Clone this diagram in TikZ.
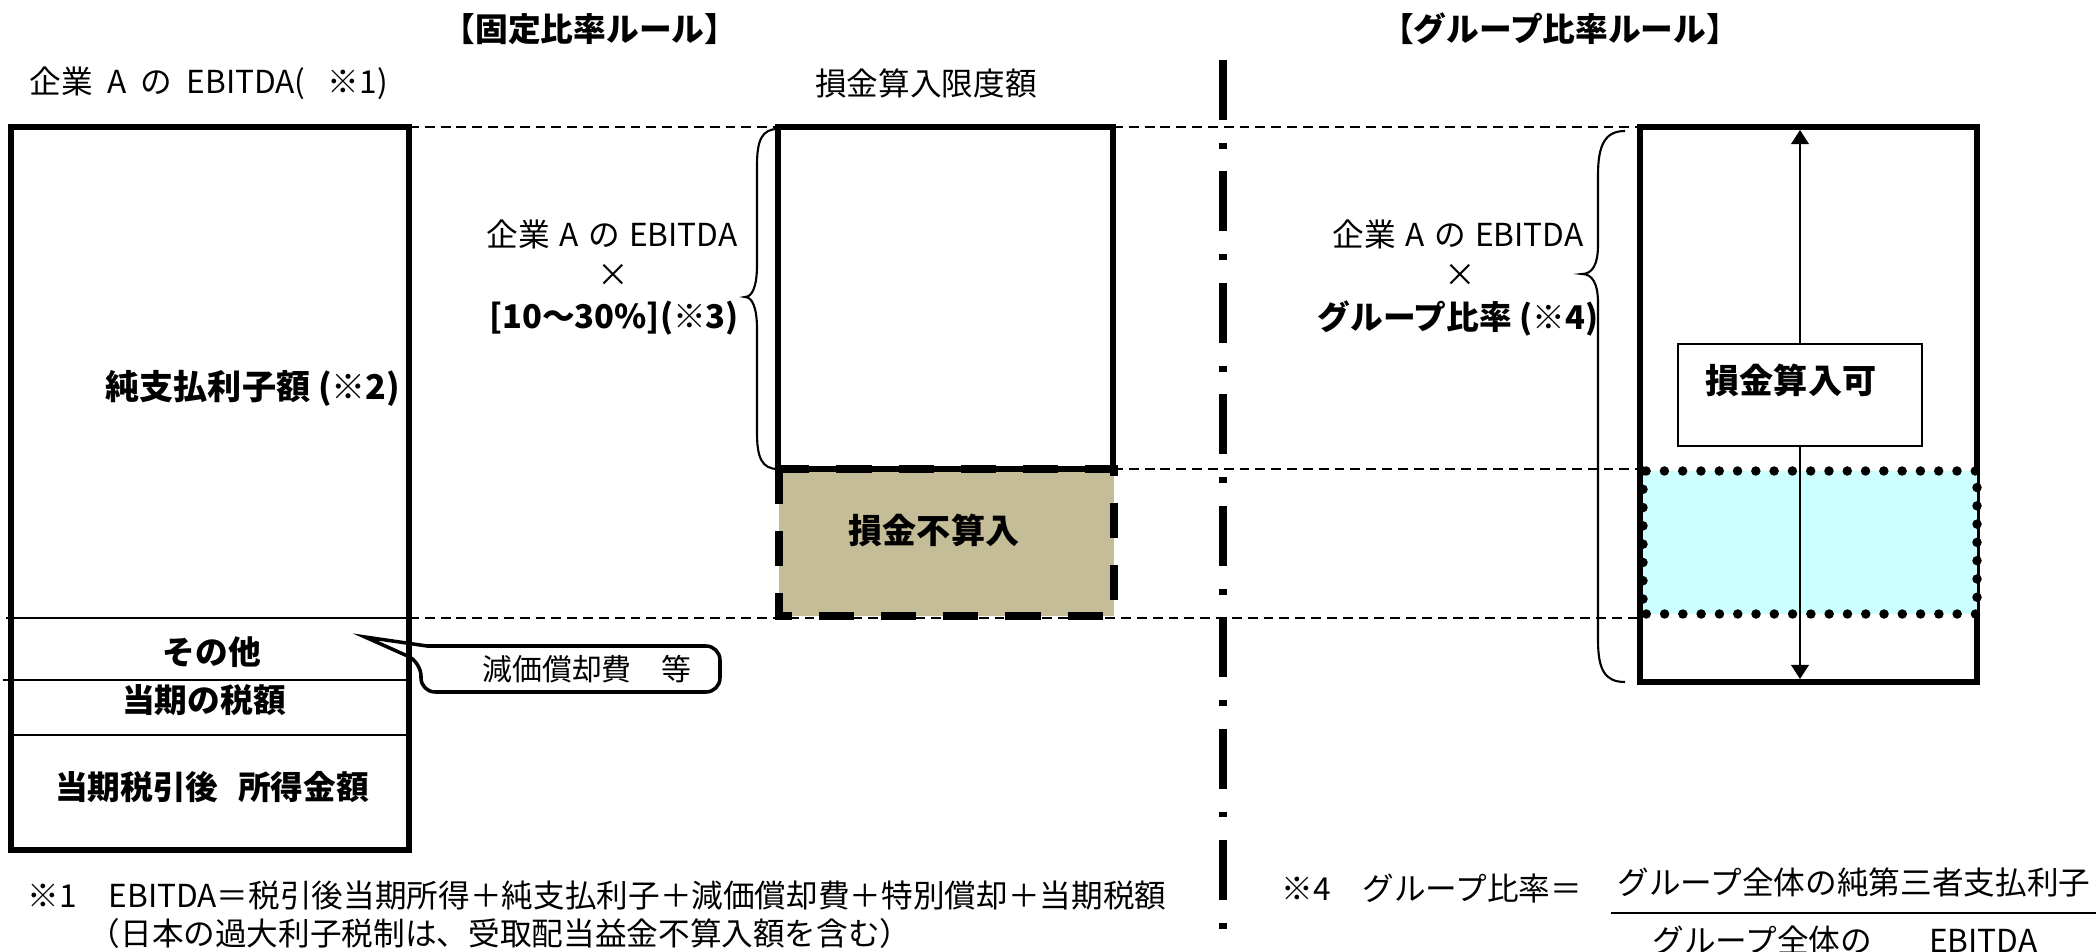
\documentclass[tikz,border=0pt]{standalone}
\usepackage{fontspec}
\setmainfont{Noto Sans CJK JP}
\usetikzlibrary{arrows.meta}
\definecolor{tanfill}{HTML}{C4BD97}
\definecolor{cyanfill}{HTML}{CCFFFF}
\begin{document}
\begin{tikzpicture}[x=0.01cm,y=-0.01cm,
  txt/.style={inner sep=0pt, font=\fontsize{9}{11}\selectfont},
  btxt/.style={inner sep=0pt, font=\fontsize{9.3}{11}\selectfont\bfseries},
  big/.style={inner sep=0pt, font=\fontsize{9.7}{11}\selectfont\bfseries},
  guide/.style={line width=0.6pt, dash pattern=on 2.8pt off 1.7pt},
  frame/.style={line width=1.5pt},
  thinline/.style={line width=0.7pt},
  bracepath/.style={line width=0.6pt},
  tip/.style={-{Triangle[width=5pt,length=4pt]}, line width=0.6pt}
]
\useasboundingbox (0,0) rectangle (2096,952);

% guide lines
\draw[guide] (409,127) -- (778,127);
\draw[guide] (1113,127) -- (1640,127);
\draw[guide] (1113,469) -- (1640,469);
\draw[guide] (409,618) -- (1640,618);

% separator
\draw[line width=2pt, dash pattern=on 17pt off 6.5pt on 1.7pt off 6.5pt] (1223,60) -- (1223,952);

% titles
\node[btxt] (title1) at (590,29) {【固定比率ルール】};
\node[btxt] (title2) at (1560,29) {【グループ比率ルール】};
\node[txt, anchor=west] (ebitda) at (29,83) {企業\hspace{0.45em}A\hspace{0.45em}の\hspace{0.45em}EBITDA(\hspace{0.7em}※1)};
\node[txt] (limit) at (926,83) {損金算入限度額};

% left box
\draw[frame] (11,127) rectangle (409,850);
\draw[thinline] (6,618) -- (409,618);
\draw[thinline] (3,680) -- (409,680);
\draw[thinline] (11,735) -- (409,735);
\node[big, anchor=east] (interest) at (401,388) {純支払利子額 (※2)};
\node[btxt] (other) at (212,652) {その他};
\node[btxt] (tax) at (204,700) {当期の税額};
\node[btxt] (after) at (212,787) {当期税引後\hspace{0.6em}所得金額};

% callout
\coordinate (ctip) at (365,637);
\draw[line width=1pt] (ctip) -- (427,646) [rounded corners=4pt] -- (720,646) -- (720,692) -- (421,692) -- (421,662) [sharp corners] -- cycle;
\node[txt, font=\fontsize{8.5}{10}\selectfont] (dep) at (587,669) {減価償却費　等};

% middle
\fill[tanfill] (779,469) rectangle (1114,616);
\draw[frame] (778,127) rectangle (1113,469);
\draw[line width=2.3pt, dash pattern=on 10pt off 7.7pt] (779,469) rectangle (1114,616);
\node[big] (nondeduct) at (934,530) {損金不算入};
\draw[bracepath] (778,129) .. controls (762,129) and (757,140) .. (757,165) -- (757,265) .. controls (757,287) and (752,297) .. (745,297) .. controls (752,297) and (757,307) .. (757,329) -- (757,433) .. controls (757,458) and (762,469) .. (778,469);
\node[txt] (m1) at (612,234) {企業\hspace{0.3em}A\hspace{0.3em}の\hspace{0.3em}EBITDA};
\node[txt] (m2) at (613,275) {×};
\node[btxt] (m3) at (614,318) {[10～30\%](※3)};

% right
\draw[frame] (1640,127) rectangle (1977,682);
\fill[cyanfill] (1643,471) rectangle (1977,614);
\draw[line width=2.7pt, dash pattern=on 0pt off 5.2pt, line cap=round] (1643,471) rectangle (1977,614);
\node[draw, line width=0.8pt, fill=white, minimum width=2.44cm, minimum height=1.02cm, inner sep=0pt] (lab) at (1800,395) {};
\node[big] (labtxt) at (1791,380) {損金算入可};
\coordinate (rtop) at (1800,130);
\coordinate (rbot) at (1800,679);
\draw[tip] (lab.north) -- (rtop);
\draw[tip] (lab.south) -- (rbot);
\draw[bracepath] (1625,131) .. controls (1605,131) and (1598,145) .. (1598,175) -- (1598,245) .. controls (1598,265) and (1592,274) .. (1582,274) .. controls (1592,274) and (1598,283) .. (1598,303) -- (1598,640) .. controls (1598,670) and (1605,682) .. (1625,682);
\node[txt] (r1) at (1458,234) {企業\hspace{0.3em}A\hspace{0.3em}の\hspace{0.3em}EBITDA};
\node[txt] (r2) at (1460,275) {×};
\node[btxt] (r3) at (1458,318) {グループ比率 (※4)};

% footnotes
\node[txt, anchor=west] (fn1) at (27,896) {※1　EBITDA＝税引後当期所得＋純支払利子＋減価償却費＋特別償却＋当期税額};
\node[txt, anchor=west] (fn1b) at (88,933) {（日本の過大利子税制は、受取配当益金不算入額を含む）};
\node[txt, anchor=west] (fn4) at (1281,889) {※4　グループ比率＝};
\node[txt] (num) at (1854,882) {グループ全体の純第三者支払利子};
\node[txt] (den) at (1845,940) {グループ全体の\hspace{1.8em}EBITDA};
\draw[line width=0.8pt] (1611,913) -- (2096,913);
\end{tikzpicture}
\end{document}
